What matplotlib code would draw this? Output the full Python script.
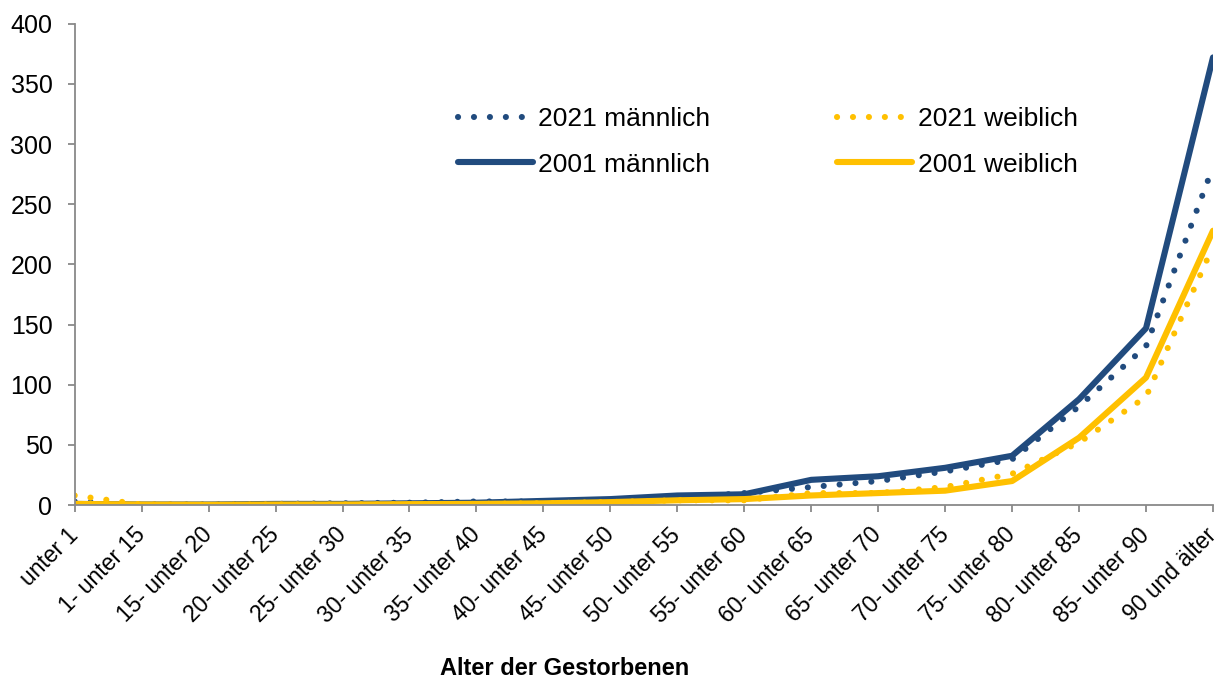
import matplotlib
matplotlib.use('Agg')
import matplotlib.pyplot as plt

plt.rcParams['font.family'] = ['Liberation Sans', 'DejaVu Sans']

# age groups
categories = ['unter 1', '1- unter 15', '15- unter 20', '20- unter 25', '25- unter 30',
              '30- unter 35', '35- unter 40', '40- unter 45', '45- unter 50', '50- unter 55',
              '55- unter 60', '60- unter 65', '65- unter 70', '70- unter 75', '75- unter 80',
              '80- unter 85', '85- unter 90', '90 und älter']

m2021 = [3, 0.5, 0.5, 1, 1.5, 2, 3, 3, 4, 6, 10, 15, 20, 28, 38, 82, 132, 281]
w2021 = [8, 0.5, 0.3, 0.5, 0.5, 0.8, 1, 1.5, 2.5, 4, 4, 10, 10, 15, 26, 52, 90, 215]
m2001 = [1, 0.5, 0.5, 1, 1, 1.5, 2, 3.5, 5, 8, 9, 21, 24, 31, 41, 88, 147, 372]
w2001 = [1, 0.5, 0.3, 0.5, 0.5, 0.8, 1, 1.5, 2.5, 4, 5, 8, 10, 12, 20, 56, 106, 228]

blue = '#214B7E'
yellow = '#FFC000'
grey = '#898989'
x = range(len(categories))

fig, ax = plt.subplots(figsize=(12.24, 6.78), dpi=100)
fig.subplots_adjust(left=0.061, right=0.991, top=0.965, bottom=0.255)

lw = 4.4
dot = (0, (0.01, 2.6))
l2001m, = ax.plot(x, m2001, color=blue, lw=lw, solid_capstyle='round', label='2001 männlich')
l2021m, = ax.plot(x, m2021, color=blue, lw=lw, linestyle=dot, dash_capstyle='round', label='2021 männlich')
l2001w, = ax.plot(x, w2001, color=yellow, lw=lw, solid_capstyle='round', label='2001 weiblich')
l2021w, = ax.plot(x, w2021, color=yellow, lw=lw, linestyle=dot, dash_capstyle='round', label='2021 weiblich')

ax.set_xlim(0, len(categories) - 1)
ax.set_ylim(0, 400)
ax.set_yticks(range(0, 401, 50))
ax.set_xticks(list(x))
ax.set_xticklabels(categories, rotation=45, ha='right', va='center', rotation_mode='anchor')
ax.tick_params(axis='both', color=grey, length=5, width=1.3)
ax.tick_params(axis='y', labelsize=18, pad=11)
ax.tick_params(axis='x', labelsize=16.5, pad=14)

for s in ['top', 'right']:
    ax.spines[s].set_visible(False)
for s in ['left', 'bottom']:
    ax.spines[s].set_color(grey)
    ax.spines[s].set_linewidth(1.3)

ax.set_xlabel('Alter der Gestorbenen', fontsize=17, fontweight='bold')
ax.xaxis.set_label_coords(0.43, -0.315)

ax.legend(handles=[l2021m, l2001m, l2021w, l2001w], ncol=2, frameon=False,
          fontsize=19, handlelength=2.85, columnspacing=4.8, handletextpad=0.2,
          labelspacing=0.8, loc='upper left', borderpad=0, borderaxespad=0,
          bbox_to_anchor=(0.3366, 0.826))

plt.savefig('out.png', dpi=100)
